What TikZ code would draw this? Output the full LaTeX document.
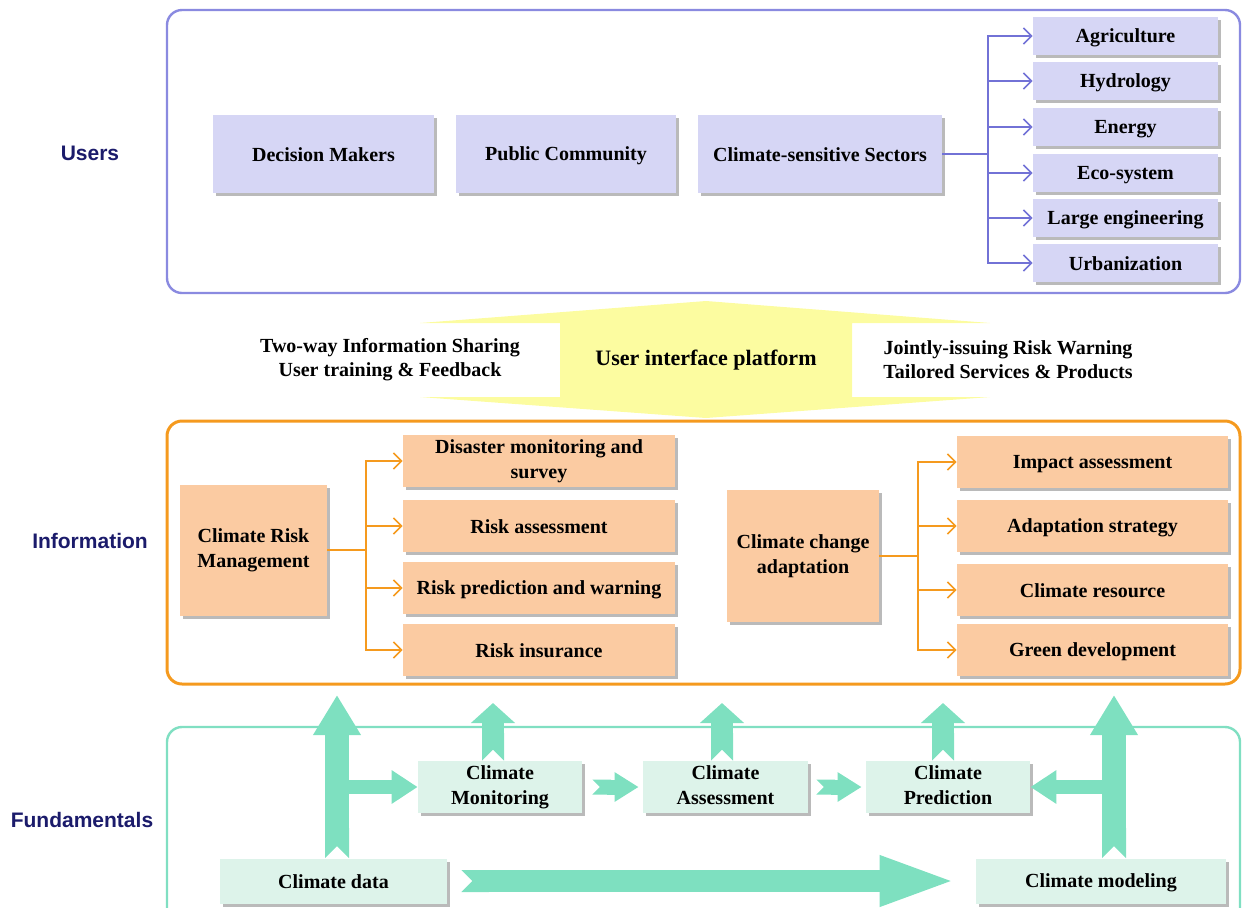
\documentclass[tikz,border=0pt]{standalone}
\usepackage{fontspec}
\setmainfont{Liberation Serif}
\newfontfamily\labelfont{Liberation Sans}
\usetikzlibrary{arrows.meta,shadows}

\definecolor{userline}{HTML}{8A8AE0}
\definecolor{userfill}{HTML}{D6D6F5}
\definecolor{userarrow}{HTML}{7272D6}
\definecolor{infoline}{HTML}{F59A1E}
\definecolor{infofill}{HTML}{FBCBA2}
\definecolor{fundline}{HTML}{80DFC2}
\definecolor{fundfill}{HTML}{DDF3EA}
\definecolor{fatgreen}{HTML}{7EE0C0}
\definecolor{platyellow}{HTML}{FCFCA0}
\definecolor{layertext}{HTML}{1B1B6B}

\newcommand\boxstrut{\vrule width 0pt height 9pt depth 2pt\relax}

\tikzset{
  box/.style={inner sep=2pt, align=center, font=\fontsize{10}{12.5}\selectfont\bfseries,
    execute at begin node=\boxstrut, execute at end node=\boxstrut,
    drop shadow={shadow xshift=1.5pt, shadow yshift=-1.5pt, fill=black!60, opacity=0.45}},
  userbox/.style={box, fill=userfill},
  sector/.style={userbox, minimum width=92.5pt, minimum height=19pt},
  infobox/.style={box, fill=infofill},
  infoitem/.style={infobox, minimum width=136pt, minimum height=26pt},
  fundbox/.style={box, fill=fundfill},
  layer/.style={font=\labelfont\fontsize{10.5}{12}\selectfont\bfseries, text=layertext},
  sidetext/.style={align=center, font=\fontsize{10}{12}\selectfont\bfseries},
  frame/.style={rounded corners=7.5pt, line width=1.2pt},
  userfork/.style={draw=userarrow, line width=0.8pt, -{Straight Barb[length=4pt,width=8pt]}},
  infofork/.style={draw=infoline, line width=0.8pt, -{Straight Barb[length=4pt,width=8pt]}},
  fatbig/.style={draw=fatgreen, line width=12pt,
    {Triangle Cap[reversed]}-{Triangle[width=22.5pt,length=20pt]}},
  fatarm/.style={draw=fatgreen, line width=7pt, -{Triangle[width=16pt,length=13pt]}},
  fatup/.style={draw=fatgreen, line width=11pt,
    {Triangle Cap[reversed]}-{Triangle[width=21.5pt,length=10pt]}},
  fatstep/.style={draw=fatgreen, line width=7.5pt,
    {Triangle Cap[reversed]}-{Triangle[width=14pt,length=12pt]}},
  fatlong/.style={draw=fatgreen, line width=11pt,
    {Triangle Cap[reversed]}-{Triangle[width=22.5pt,length=39pt]}}
}

\begin{document}
\begin{tikzpicture}[x=0.5pt,y=-0.5pt]
  \clip (0,0) rectangle (1244,907);

  % layer names
  \node[layer] (users) at (90,153) {Users};
  \node[layer] (information) at (90,541) {Information};
  \node[layer] (fundamentals) at (82,820) {Fundamentals};

  % users
  \draw[frame, draw=userline] (167,10) rectangle (1240,293);
  \node[userbox, minimum width=110.5pt, minimum height=39pt] (decision) at (323.5,154) {Decision Makers};
  \node[userbox, minimum width=110pt, minimum height=39pt] (public) at (566,154) {Public Community};
  \node[userbox, minimum width=122pt, minimum height=39pt] (css) at (820,154) {Climate-sensitive Sectors};
  \node[sector] (agri) at (1125.5,36) {Agriculture};
  \node[sector] (hydro) at (1125.5,81) {Hydrology};
  \node[sector] (energy) at (1125.5,127) {Energy};
  \node[sector] (eco) at (1125.5,173) {Eco-system};
  \node[sector] (large) at (1125.5,218) {Large engineering};
  \node[sector] (urban) at (1125.5,263) {Urbanization};
  \coordinate (usplit) at (988,154);
  \draw[draw=userarrow, line width=0.8pt] (css.east) -- (usplit);
  \foreach \s in {agri,hydro,energy,eco,large,urban}
    \draw[userfork] (usplit) |- (\s.west);

  % user interface platform
  \fill[platyellow] (706,301) -- (990,323) -- (852,323) -- (852,397) -- (990,397)
    -- (706,418) -- (420,397) -- (560,397) -- (560,323) -- (420,323) -- cycle;
  \node[font=\fontsize{11}{13}\selectfont\bfseries] (platform) at (706,360) {User interface platform};
  \node[sidetext] (sharing) at (390,360) {Two-way Information Sharing\\User training \& Feedback};
  \node[sidetext] (warning) at (1008,360) {Jointly-issuing Risk Warning\\Tailored Services \& Products};

  % information
  \draw[frame, draw=infoline, line width=1.5pt] (167,421) rectangle (1240,684);
  \node[infobox, minimum width=73.5pt, minimum height=65.5pt] (crm) at (253.5,550) {Climate Risk\\Management};
  \node[infoitem] (disaster) at (539,461) {Disaster monitoring and\\survey};
  \node[infoitem] (riskass) at (539,526) {Risk assessment};
  \node[infoitem] (riskpred) at (539,588) {Risk prediction and warning};
  \node[infoitem] (riskins) at (539,650) {Risk insurance};
  \coordinate (lsplit) at (366,550);
  \draw[draw=infoline, line width=0.8pt] (crm.east) -- (lsplit);
  \foreach \s in {disaster,riskass,riskpred,riskins}
    \draw[infofork] (lsplit) |- (\s.west);

  \node[infobox, minimum width=76pt, minimum height=66pt] (cca) at (803,556) {Climate change\\adaptation};
  \node[infoitem, minimum width=135.5pt] (impact) at (1092.5,462) {Impact assessment};
  \node[infoitem, minimum width=135.5pt] (strategy) at (1092.5,526) {Adaptation strategy};
  \node[infoitem, minimum width=135.5pt] (resource) at (1092.5,590) {Climate resource};
  \node[infoitem, minimum width=135.5pt] (green) at (1092.5,650) {Green development};
  \coordinate (rsplit) at (918,556);
  \draw[draw=infoline, line width=0.8pt] (cca.east) -- (rsplit);
  \foreach \s in {impact,strategy,resource,green}
    \draw[infofork] (rsplit) |- (\s.west);

  % fundamentals
  \draw[frame, draw=fundline] (167,727) rectangle (1240,960);
  \node[fundbox, minimum width=82pt, minimum height=26pt] (mon) at (500,787) {Climate\\Monitoring};
  \node[fundbox, minimum width=82.5pt, minimum height=26pt] (ass) at (725.5,787) {Climate\\Assessment};
  \node[fundbox, minimum width=82pt, minimum height=26pt] (pred) at (948,787) {Climate\\Prediction};
  \node[fundbox, minimum width=113.5pt, minimum height=22.5pt] (data) at (333.5,881) {Climate data};
  \node[fundbox, minimum width=125pt, minimum height=22.5pt] (model) at (1101,881) {Climate modeling};

  \coordinate (dataUp) at (337,695);
  \coordinate (modelUp) at (1114,695);
  \coordinate (monUp) at (493,703);
  \coordinate (assUp) at (722,703);
  \coordinate (predUp) at (943,703);

  \draw[fatbig] (data.north -| dataUp) -- (dataUp);
  \draw[fatarm] (dataUp |- mon.west) -- (mon.west);
  \draw[fatbig] (model.north -| modelUp) -- (modelUp);
  \draw[fatarm] (modelUp |- pred.east) -- (pred.east);
  \draw[fatup] (mon.north -| monUp) -- (monUp);
  \draw[fatup] (ass.north -| assUp) -- (assUp);
  \draw[fatup] (pred.north -| predUp) -- (predUp);
  \draw[fatstep] ([xshift=5pt]mon.east) -- ([xshift=-2pt]ass.west);
  \draw[fatstep] ([xshift=4pt]ass.east) -- ([xshift=-2pt]pred.west);
  \draw[fatlong] ([xshift=7pt]data.east) -- ([xshift=-9pt]model.west);
\end{tikzpicture}
\end{document}
